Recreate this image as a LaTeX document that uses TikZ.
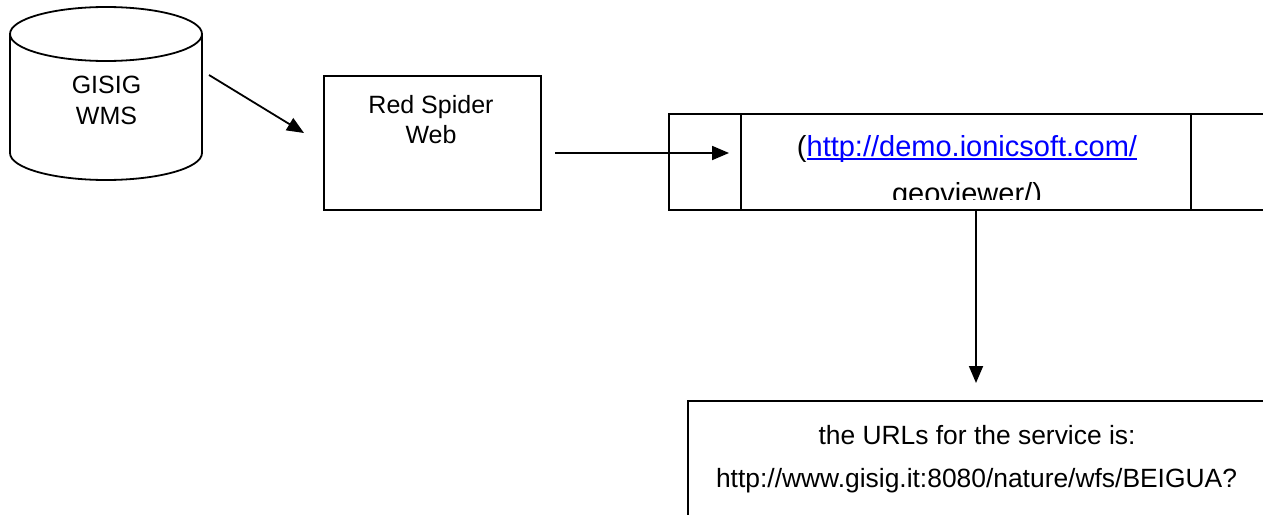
\documentclass[tikz,border=0pt]{standalone}
\usepackage{fontspec}
\usepackage{tikz}
\usetikzlibrary{arrows.meta}
\setmainfont{Liberation Sans}
\definecolor{link_blue}{HTML}{0000FF}
\tikzset{
  box/.style={draw,line width=1.8pt,inner sep=0},
  lbl/.style={font=\fontsize{25}{30}\selectfont,inner sep=0},
  url/.style={font=\fontsize{26.4}{32}\selectfont,inner sep=0},
  arr/.style={-{Triangle[length=17pt,width=14pt]},line width=1.8pt}
}

\begin{document}
\begin{tikzpicture}[x=1pt,y=-1pt]
    \useasboundingbox (0,0) rectangle (1263,514);
    % database
    \draw[line width=1.8pt] (10,34) -- (10,153) arc[start angle=180,end angle=0,x radius=96,y radius=27] -- (202,34);
    \draw[line width=1.8pt] (106,34) ellipse[x radius=96,y radius=27];
    \node[lbl,anchor=base] (gisig) at (106.5,93) {GISIG};
    \node[lbl,anchor=base] (wms) at (106.5,124) {WMS};
    % boxes
    \node[box,minimum width=217pt,minimum height=134pt] (rsw) at (432.5,143) {};
    \node[lbl,anchor=base] (red) at (431,113) {Red Spider};
    \node[lbl,anchor=base] (web) at (431,143) {Web};
    \node[box,minimum width=597pt,minimum height=96pt] (viewer) at (967.5,162) {};
    \draw[line width=1.8pt] (741,114) -- (741,210);
    \draw[line width=1.8pt] (1191,114) -- (1191,210);
    \node[font=\fontsize{29}{35}\selectfont,inner sep=0,anchor=base] (demo) at (967,156) {(\textcolor{link_blue}{http://demo.ionicsoft.com/}};
    \draw[link_blue,line width=2pt] ([xshift=10pt,yshift=-2.5pt]demo.base west) -- ([yshift=-2.5pt]demo.base east);
    \begin{scope}
      \clip (742,115) rectangle (1190,199);
      \node[font=\fontsize{29}{35}\selectfont,inner sep=0,anchor=base] (geo) at (967,203) {geoviewer/)};
    \end{scope}
    \node[box,minimum width=578pt,minimum height=160pt] (service) at (977,481) {};
    \node[url,anchor=base] (urls) at (977,444) {the URLs for the service is:};
    \node[url,anchor=base] (wfs) at (976.5,487) {http://www.gisig.it:8080/nature/wfs/BEIGUA?};
    % connectors
    \coordinate (a1s) at (209,75);
    \coordinate (a1e) at (304,133);
    \coordinate (a2s) at (555,153);
    \coordinate (a2e) at (729,153);
    \coordinate (a3s) at (976,210);
    \coordinate (a3e) at (976,383);
    \draw[arr] (a1s) -- (a1e);
    \draw[arr] (a2s) -- (a2e);
    \draw[arr] (a3s) -- (a3e);
  \end{tikzpicture}
\end{document}
